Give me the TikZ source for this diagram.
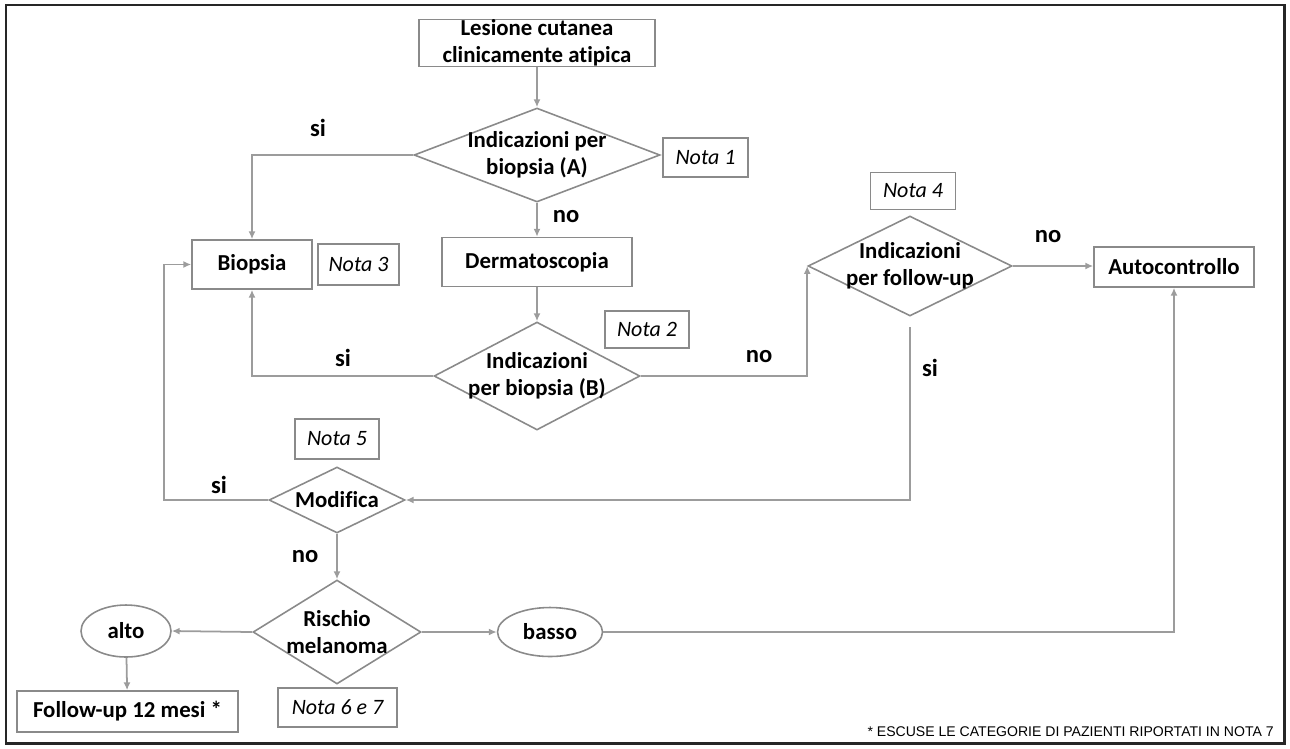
\documentclass[tikz,border=0pt]{standalone}
\usepackage{fontspec}
\setmainfont{Carlito}[Ligatures={NoCommon}]
\newfontfamily\footfont{Liberation Sans}
\usepackage{tikz}
\usetikzlibrary{arrows.meta,shapes.geometric}
\definecolor{linegray}{HTML}{9C9C9C}
\definecolor{boxgray}{HTML}{8A8A8A}

\begin{document}
\begin{tikzpicture}[x=0.02cm, y=-0.02cm,
  txt/.style={font=\bfseries\fontsize{13}{15.5}\selectfont, align=center},
  box/.style={draw=boxgray, line width=0.9pt, txt, inner sep=0pt},
  dec/.style={draw=boxgray, line width=0.9pt, txt, diamond, aspect=2, inner sep=-6pt},
  oval/.style={draw=boxgray, line width=0.9pt, txt, ellipse, inner sep=0pt},
  nota/.style={draw=boxgray, line width=0.9pt, inner sep=0pt, font=\itshape\fontsize{12.5}{15}\selectfont},
  lbl/.style={font=\bfseries\fontsize{14}{16}\selectfont},
  conn/.style={draw=linegray, line width=1pt},
  arr/.style={conn, -{Latex[length=4.5pt,width=4pt]}}]
  \useasboundingbox (0,0) rectangle (1290,748);
  % outer frame
  \draw[line width=1.7pt, black!85] (6,5) rectangle (1284,743);

  % top part
  \node[box, minimum width=4.72cm, minimum height=0.92cm] (les) at (537,43) {Lesione cutanea\\clinicamente atipica};
  \node[dec, minimum width=4.92cm, minimum height=1.88cm] (dA) at (537,155) {Indicazioni per\\biopsia (A)};
  \node[nota, minimum width=1.7cm, minimum height=0.78cm] (n1) at (705.5,157.5) {Nota 1};
  \node[box, minimum width=2.4cm, minimum height=0.98cm] (bio) at (252,264.5) {Biopsia};
  \node[nota, minimum width=1.62cm, minimum height=0.82cm] (n3) at (358.5,264.5) {Nota 3};
  \node[box, minimum width=3.8cm, minimum height=0.98cm] (der) at (537,262) {Dermatoscopia};

  % second decision
  \node[dec, minimum width=4.12cm, minimum height=2.16cm] (dB) at (537,376) {Indicazioni\\per biopsia (B)};
  \node[nota, minimum width=1.68cm, minimum height=0.74cm] (n2) at (647,329.5) {Nota 2};

  % follow-up branch
  \node[dec, minimum width=4.08cm, minimum height=2cm] (fu) at (910,266) {Indicazioni\\per follow-up};
  \node[nota, minimum width=1.7cm, minimum height=0.74cm] (n4) at (913,191) {Nota 4};
  \node[box, minimum width=3.2cm, minimum height=0.8cm] (auto) at (1174,267) {Autocontrollo};

  % lower part
  \node[dec, minimum width=2.72cm, minimum height=1.32cm] (mod) at (337,500) {Modifica};
  \node[nota, minimum width=1.68cm, minimum height=0.8cm] (n5) at (337,439) {Nota 5};
  \node[dec, minimum width=3.36cm, minimum height=2.08cm] (rm) at (337,632) {Rischio\\melanoma};
  \node[nota, minimum width=2.38cm, minimum height=0.78cm] (n67) at (337.5,707.5) {Nota 6 e 7};
  \node[oval, minimum width=1.8cm, minimum height=1.04cm] (alto) at (126,631) {alto};
  \node[oval, minimum width=2.1cm, minimum height=0.98cm] (basso) at (550,632) {basso};
  \node[box, minimum width=4.42cm, minimum height=0.82cm] (fu12) at (127.5,711.5) {Follow-up 12 mesi *};

  % branch labels
  \node[lbl] (l1) at (318,128) {si};
  \node[lbl] (l2) at (566,217) {no};
  \node[lbl] (l3) at (343,358) {si};
  \node[lbl] (l4) at (759,357) {no};
  \node[lbl] (l5) at (1048,237) {no};
  \node[lbl] (l6) at (930,368) {si};
  \node[lbl] (l7) at (219,485) {si};
  \node[lbl] (l8) at (305,557) {no};

  % footnote
  \node[anchor=east, inner sep=0pt, font=\footfont\fontsize{8}{9}\selectfont] (foot) at (1274,732) {* ESCUSE LE CATEGORIE DI PAZIENTI RIPORTATI IN NOTA 7};

  % connectors
  \coordinate (ml) at (164,500);
  \draw[arr] (les) -- (dA);
  \draw[arr] (dA.west) -| (bio.north);
  \draw[arr] (dA) -- (der);
  \draw[arr] (der) -- (dB);
  \draw[arr] (dB.west) -| (bio.south);
  \draw[arr] (dB.east) -| (fu.west);
  \draw[arr] (fu.east) -- (fu.east -| auto.west);
  \draw[arr, shorten <=6pt] (fu.south) |- (mod.east);
  \draw[arr] (mod.west) -- (ml) |- (bio.west);
  \draw[arr] (mod) -- (rm);
  \draw[arr] (rm.west) -- (alto.east);
  \draw[arr] (rm.east) -- (basso.west);
  \draw[arr] (basso.east) -| (auto.south);
  \draw[arr] (alto) -- (fu12);
\end{tikzpicture}
\end{document}
